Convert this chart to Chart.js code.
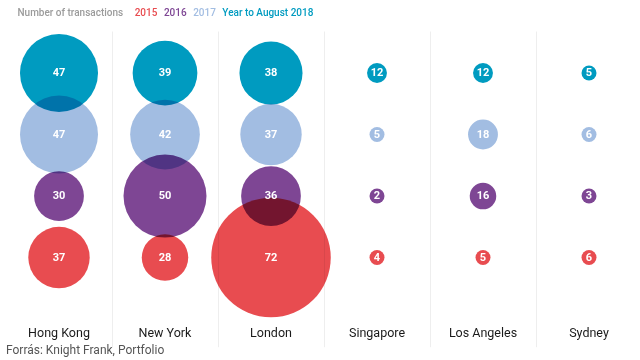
<!DOCTYPE html>
<html>
<head>
<meta charset="utf-8">
<script src="https://cdn.jsdelivr.net/npm/chart.js@4.4.0/dist/chart.umd.min.js"></script>
<style>
html, body { margin: 0; padding: 0; background: #ffffff; overflow: hidden; }
#wrap { position: relative; width: 644px; height: 360px; }
</style>
</head>
<body>
<div id="wrap"><canvas id="c"></canvas></div>
<script>
// ---- data ----
const categories = ['Hong Kong', 'New York', 'London', 'Singapore', 'Los Angeles', 'Sydney'];
const seriesNames = ['2015', '2016', '2017', 'Year to August 2018'];
const values2015 = [37, 28, 72, 4, 5, 6];
const values2016 = [30, 50, 36, 2, 16, 3];
const values2017 = [47, 42, 37, 5, 18, 6];
const values2018 = [47, 39, 38, 12, 12, 5];
const legendLead = 'Number of transactions';
const sourceText = 'Forrás: Knight Frank, Portfolio';

// ---- styles ----
const seriesColors = ['#e84c50', '#7e4694', '#a2bde2', '#009bc0'];
const leadColor = '#9b9b9b';
const allSeries = [values2015, values2016, values2017, values2018];
const radiusOf = v => Math.max(v * 0.83, 7.5);

const datasets = allSeries.map((vals, s) => ({
  label: seriesNames[s],
  data: vals.map((v, i) => ({ x: categories[i], y: s, r: radiusOf(v), v: v })),
  backgroundColor: seriesColors[s],
  borderWidth: 0,
  hoverBorderWidth: 0,
  clip: false
}));

const blendAndLabels = {
  id: 'blendAndLabels',
  beforeDatasetsDraw(chart) {
    chart.ctx.save();
    chart.ctx.globalCompositeOperation = 'multiply';
  },
  afterDatasetsDraw(chart) {
    const ctx = chart.ctx;
    ctx.restore();
    ctx.save();
    ctx.fillStyle = '#ffffff';
    ctx.font = '700 11px Roboto';
    ctx.textAlign = 'center';
    ctx.textBaseline = 'middle';
    chart.data.datasets.forEach((ds, di) => {
      chart.getDatasetMeta(di).data.forEach((el, i) => {
        ctx.fillText(String(ds.data[i].v), el.x, el.y + 0.5);
      });
    });
    ctx.restore();
  }
};

new Chart(document.getElementById('c'), {
  type: 'bubble',
  data: { labels: categories, datasets: datasets },
  plugins: [blendAndLabels],
  options: {
    responsive: true,
    maintainAspectRatio: false,
    animation: false,
    events: [],
    layout: { autoPadding: false, padding: { left: 6, right: 2, top: 6.1, bottom: 2.0 } },
    plugins: {
      tooltip: { enabled: false },
      legend: {
        display: true,
        position: 'top',
        align: 'start',
        weight: 1000,
        labels: {
          boxWidth: 0,
          boxHeight: 11,
          padding: 1.5,
          font: { family: 'Roboto', size: 10, weight: '500' },
          generateLabels(chart) {
            const items = [{
              text: '  ' + legendLead + '  ', fontColor: leadColor,
              fillStyle: 'rgba(0,0,0,0)', strokeStyle: 'rgba(0,0,0,0)', lineWidth: 0, hidden: false
            }];
            chart.data.datasets.forEach((ds, i) => items.push({
              text: ds.label, fontColor: seriesColors[i], datasetIndex: i,
              fillStyle: 'rgba(0,0,0,0)', strokeStyle: 'rgba(0,0,0,0)', lineWidth: 0, hidden: false
            }));
            return items;
          }
        }
      },
      title: {
        display: true,
        text: '',
        weight: 500,
        font: { size: 1 },
        padding: { top: 0, bottom: 1.7 }
      },
      subtitle: {
        display: true,
        text: sourceText,
        position: 'bottom',
        align: 'start',
        color: '#555555',
        font: { family: 'Roboto', size: 12, weight: '400' },
        padding: { top: 2.4, bottom: 0 }
      }
    },
    scales: {
      x: {
        type: 'category',
        labels: categories,
        offset: true,
        border: { display: false },
        grid: {
          offset: true,
          color: c => (c.index === 0 ? 'rgba(0,0,0,0)' : '#eeeeee'),
          lineWidth: 1,
          drawTicks: true,
          tickLength: 28
        },
        ticks: {
          padding: -20.8,
          color: '#1a1a1a',
          autoSkip: false,
          maxRotation: 0,
          font: { family: 'Roboto', size: 12.5, weight: '400' }
        },
        afterFit(scale) { scale.height = 22; }
      },
      y: {
        type: 'linear',
        display: false,
        min: -1.003,
        max: 3.676
      }
    }
  }
});
</script>
</body>
</html>
